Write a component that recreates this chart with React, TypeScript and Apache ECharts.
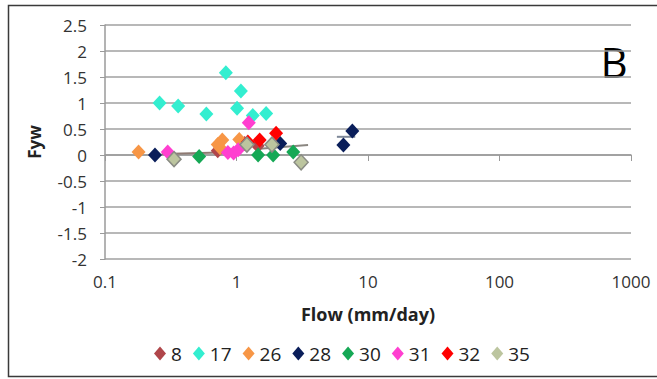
import React, { useEffect, useRef } from "react";
import * as echarts from "echarts";

const seriesNames = ["8", "17", "26", "28", "30", "31", "32", "35"];

const s8: number[][] = [[0.72, 0.08], [1.15, 0.22], [1.45, 0.18]];
const s17: number[][] = [[0.26, 1.0], [0.36, 0.94], [0.59, 0.79], [0.83, 1.58], [1.08, 1.23], [1.01, 0.9], [1.33, 0.76], [1.68, 0.8]];
const s26: number[][] = [[0.18, 0.06], [0.75, 0.14], [0.72, 0.2], [0.78, 0.29], [1.05, 0.3]];
const s28: number[][] = [[0.24, 0.0], [2.15, 0.22], [6.5, 0.19], [7.6, 0.46]];
const s30: number[][] = [[0.52, -0.03], [1.46, 0.0], [1.9, 0.0], [2.7, 0.06]];
const s31: number[][] = [[0.3, 0.06], [0.86, 0.05], [0.95, 0.04], [1.03, 0.1], [1.24, 0.62]];
const s32: number[][] = [[1.22, 0.25], [1.5, 0.29], [2.0, 0.42]];
const s35: number[][] = [[0.335, -0.08], [1.2, 0.2], [1.86, 0.2], [3.1, -0.14]];

const trendLow: number[][] = [[0.27, 0.02], [1.05, 0.06]];
const trendMid: number[][] = [[1.5, 0.12], [3.5, 0.19]];
const trendHigh: number[][] = [[5.8, 0.35], [8.0, 0.35]];

const seriesData = [s8, s17, s26, s28, s30, s31, s32, s35];
const fills = ["#B0464A", "#33EED0", "#F79646", "#0A1E5A", "#15A855", "#FF3FD0", "#FF0000", "#BCC59F"];
const borders = ["#B0464A", "#33EED0", "#F79646", "#0A1E5A", "#15A855", "#FF3FD0", "#FF0000", "#8A8C84"];

const yMin = -2;
const yMax = 2.5;
const yStep = 0.5;

const FONT = "Open Sans";

export default function App() {
  const ref = useRef<HTMLDivElement>(null);
  useEffect(() => {
    if (!ref.current) return;
    const chart = echarts.init(ref.current, undefined, { renderer: "svg" });
    const scatter = seriesNames.map((name, i) => ({
      name,
      type: "scatter",
      data: seriesData[i],
      symbol: "diamond",
      symbolSize: [14, 15],
      itemStyle: {
        color: fills[i],
        borderColor: borders[i],
        borderWidth: i === 7 ? 1.5 : 0,
        opacity: 1,
      },
      silent: true,
    }));
    const trendColors = ["#8E7A72", "#8A8680", "#7E8898"];
    const trends = [trendLow, trendMid, trendHigh].map((d, i) => ({
      name: "trend" + i,
      type: "line",
      data: d,
      symbol: "none",
      lineStyle: { color: trendColors[i], width: 2 },
      silent: true,
      z: 1,
    }));
    chart.setOption({
      animation: false,
      backgroundColor: "#ffffff",
      textStyle: { fontFamily: FONT },
      grid: { left: 105, right: 26, top: 25, bottom: 120, containLabel: false },
      legend: {
        data: seriesNames.map((n, i) => ({ name: n, itemStyle: { color: fills[i], borderWidth: 0 } })),
        icon: "diamond",
        left: 149,
        top: 339,
        itemWidth: 12,
        itemHeight: 14,
        itemGap: 11,
        textStyle: { fontSize: 19, color: "#222", fontFamily: FONT },
      },
      xAxis: {
        type: "log",
        logBase: 10,
        min: 0.1,
        max: 1000,
        name: "Flow (mm/day)",
        nameLocation: "middle",
        nameGap: 46,
        nameTextStyle: { fontSize: 18, fontWeight: "bold", color: "#222", fontFamily: FONT },
        axisLine: { show: true, lineStyle: { color: "#9A9A9A", width: 1.5 } },
        axisTick: { show: true, length: 6, inside: false, lineStyle: { color: "#9A9A9A", width: 1 } },
        minorTick: { show: false },
        splitLine: { show: false },
        axisLabel: {
          fontSize: 17,
          color: "#333",
          margin: 14,
          fontFamily: FONT,
          formatter: (v: number) => String(+Number(v).toPrecision(3)),
        },
      },
      yAxis: {
        type: "value",
        min: yMin,
        max: yMax,
        interval: yStep,
        name: "Fyw",
        nameLocation: "middle",
        nameGap: 62,
        nameTextStyle: { fontSize: 17, fontWeight: "bold", color: "#222", fontFamily: FONT },
        axisLine: { show: true, lineStyle: { color: "#9A9A9A", width: 1.5 } },
        axisTick: { show: true, length: 5, inside: false, lineStyle: { color: "#9A9A9A", width: 1 } },
        splitLine: { show: true, lineStyle: { color: "#A0A0A0", width: 1.5 } },
        axisLabel: {
          fontSize: 17,
          color: "#333",
          margin: 18,
          fontFamily: FONT,
          formatter: (v: number) => String(+Number(v).toFixed(1)),
        },
      },
      graphic: [
        {
          type: "rect",
          shape: { x: 8.5, y: 5.5, width: 700, height: 371 },
          style: { fill: "none", stroke: "#3A3A3A", lineWidth: 1.5 },
          silent: true,
          z: 100,
        },
        {
          type: "text",
          x: 614,
          y: 61,
          style: {
            text: "B",
            fontSize: 42,
            fontFamily: FONT,
            fill: "#000",
            textAlign: "center",
            textVerticalAlign: "middle",
          },
          silent: true,
        },
      ],
      series: [...trends, ...scatter],
    });
    return () => chart.dispose();
  }, []);
  return (
    <div
      ref={ref}
      style={{ position: "fixed", left: 0, top: 0, width: 657, height: 379, background: "#fff" }}
    />
  );
}
